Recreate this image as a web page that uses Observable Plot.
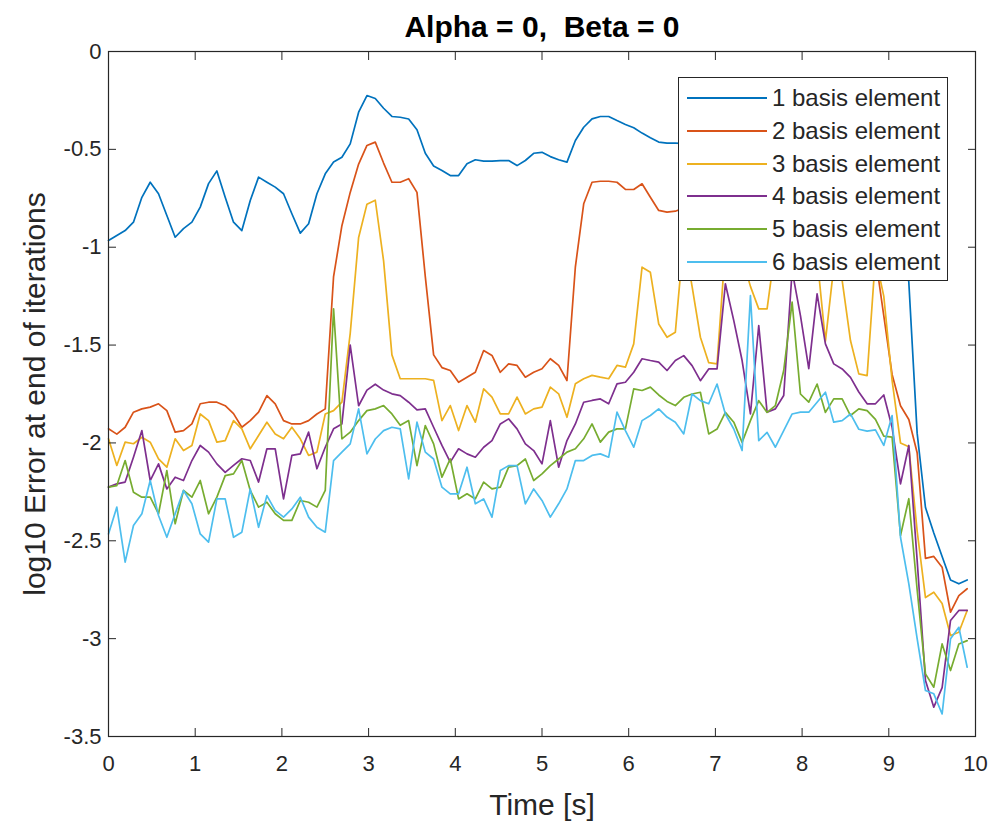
<!DOCTYPE html>
<html><head><meta charset="utf-8">
<script src="https://cdn.jsdelivr.net/npm/d3@7"></script>
<script src="https://cdn.jsdelivr.net/npm/@observablehq/plot@0.6"></script>
<style>
body{margin:0;background:#fff;}
#wrap{position:relative;width:992px;height:822px;overflow:hidden;}
#legend{position:absolute;left:678px;top:77px;width:268px;height:202px;border:1.3px solid #262626;background:#fff;font-family:"Liberation Sans",Arial,sans-serif;font-size:24px;color:#262626;}
.row{position:absolute;left:0;width:100%;height:0;}
.sw{position:absolute;left:8px;width:80px;top:-1px;height:2px;}
.lab{position:absolute;left:93px;top:-14px;line-height:28px;white-space:nowrap;}
</style></head><body><div id="wrap"></div>
<script>
const time = [0,0.096,0.192,0.288,0.385,0.481,0.577,0.673,0.769,0.865,
0.962,1.058,1.154,1.25,1.346,1.442,1.538,1.635,1.731,1.827,
1.923,2.019,2.115,2.212,2.308,2.404,2.5,2.596,2.692,2.788,
2.885,2.981,3.077,3.173,3.269,3.365,3.462,3.558,3.654,3.75,
3.846,3.942,4.038,4.135,4.231,4.327,4.423,4.519,4.615,4.712,
4.808,4.904,5.0,5.096,5.192,5.288,5.385,5.481,5.577,5.673,
5.769,5.865,5.962,6.058,6.154,6.25,6.346,6.442,6.538,6.635,
6.731,6.827,6.923,7.019,7.115,7.212,7.308,7.404,7.5,7.596,
7.692,7.788,7.885,7.981,8.077,8.173,8.269,8.365,8.462,8.558,
8.654,8.75,8.846,8.942,9.038,9.135,9.231,9.327,9.423,9.519,
9.615,9.712,9.808,9.904];

const basis1 = [-0.966,-0.94,-0.915,-0.872,-0.745,-0.668,-0.727,-0.838,-0.949,-0.905,
-0.872,-0.795,-0.675,-0.61,-0.745,-0.872,-0.915,-0.761,-0.642,-0.668,
-0.693,-0.727,-0.829,-0.928,-0.88,-0.727,-0.625,-0.565,-0.54,-0.472,
-0.31,-0.225,-0.24,-0.29,-0.332,-0.336,-0.345,-0.40,-0.52,-0.585,
-0.608,-0.634,-0.634,-0.574,-0.553,-0.56,-0.56,-0.558,-0.557,-0.583,
-0.557,-0.52,-0.515,-0.537,-0.553,-0.565,-0.455,-0.387,-0.344,-0.332,
-0.332,-0.353,-0.373,-0.39,-0.417,-0.441,-0.463,-0.468,-0.468,-0.47,
-0.46,-0.44,-0.42,-0.41,-0.43,-0.45,-0.47,-0.46,-0.44,-0.42,
-0.40,-0.38,-0.37,-0.39,-0.42,-0.45,-0.48,-0.50,-0.49,-0.47,
-0.48,-0.51,-0.55,-0.60,-0.66,-0.80,-1.18,-1.95,-2.33,-2.46,
-2.58,-2.70,-2.72,-2.70];

const basis2 = [-1.928,-1.955,-1.92,-1.843,-1.826,-1.817,-1.80,-1.835,-1.945,-1.937,
-1.903,-1.80,-1.792,-1.792,-1.81,-1.85,-1.92,-1.886,-1.843,-1.758,
-1.80,-1.886,-1.903,-1.903,-1.886,-1.852,-1.826,-1.15,-0.89,-0.72,
-0.575,-0.48,-0.463,-0.57,-0.668,-0.668,-0.65,-0.72,-1.15,-1.55,
-1.615,-1.63,-1.69,-1.664,-1.639,-1.528,-1.553,-1.639,-1.596,-1.604,
-1.664,-1.639,-1.621,-1.57,-1.604,-1.681,-1.1,-0.778,-0.668,-0.663,
-0.663,-0.668,-0.705,-0.705,-0.676,-0.745,-0.812,-0.821,-0.816,-0.80,
-0.78,-0.75,-0.73,-0.75,-0.78,-0.82,-0.84,-0.82,-0.80,-0.78,
-0.77,-0.79,-0.82,-0.85,-0.87,-0.85,-0.83,-0.85,-0.88,-0.92,
-0.96,-1.0,-1.05,-1.35,-1.65,-1.81,-1.88,-2.05,-2.59,-2.58,
-2.635,-2.865,-2.78,-2.745];

const basis3 = [-1.979,-2.115,-1.996,-2.004,-1.971,-1.996,-2.081,-2.124,-1.979,-2.039,
-2.013,-1.852,-1.886,-1.996,-1.988,-1.886,-1.928,-2.03,-1.962,-1.894,
-1.954,-1.979,-1.92,-1.979,-2.064,-2.047,-1.852,-1.835,-1.792,-1.44,
-0.95,-0.78,-0.76,-1.07,-1.55,-1.672,-1.672,-1.672,-1.672,-1.68,
-1.886,-1.809,-1.937,-1.809,-1.894,-1.724,-1.766,-1.852,-1.852,-1.766,
-1.852,-1.826,-1.817,-1.715,-1.749,-1.869,-1.698,-1.672,-1.655,-1.664,
-1.672,-1.604,-1.613,-1.494,-1.102,-1.128,-1.392,-1.46,-1.434,-0.95,
-1.2,-1.46,-1.59,-1.596,-1.0,-0.95,-1.05,-1.2,-1.315,-1.315,
-1.0,-0.95,-1.05,-1.0,-0.95,-1.05,-1.48,-1.1,-1.17,-1.477,
-1.647,-1.656,-1.05,-1.25,-1.68,-2.0,-2.02,-2.45,-2.79,-2.763,
-2.82,-2.984,-2.967,-2.856];

const basis4 = [-2.226,-2.209,-2.2,-2.073,-1.937,-2.192,-2.107,-2.235,-2.175,-2.192,
-2.09,-2.013,-2.047,-2.107,-2.15,-2.115,-2.081,-2.09,-2.2,-2.03,
-2.03,-2.286,-2.064,-2.056,-1.945,-2.132,-2.022,-1.928,-1.903,-1.50,
-1.81,-1.73,-1.70,-1.73,-1.749,-1.758,-1.792,-1.831,-1.826,-1.92,
-2.013,-2.098,-2.03,-2.056,-2.073,-2.022,-1.988,-1.903,-1.877,-1.928,
-2.005,-2.039,-2.107,-1.886,-2.124,-1.988,-1.903,-1.792,-1.783,-1.775,
-1.80,-1.698,-1.69,-1.639,-1.57,-1.579,-1.587,-1.63,-1.579,-1.554,
-1.605,-1.682,-1.622,-1.622,-1.187,-1.375,-1.579,-1.852,-1.40,-1.843,
-1.826,-1.758,-1.12,-1.35,-1.62,-1.238,-1.494,-1.596,-1.622,-1.665,
-1.74,-1.80,-1.80,-1.755,-1.92,-2.209,-2.013,-2.6,-3.214,-3.35,
-3.25,-2.907,-2.856,-2.856];

const basis5 = [-2.226,-2.218,-2.09,-2.252,-2.277,-2.277,-2.362,-2.141,-2.413,-2.243,
-2.277,-2.192,-2.362,-2.277,-2.167,-2.158,-2.09,-2.243,-2.328,-2.303,
-2.362,-2.396,-2.396,-2.294,-2.303,-2.328,-2.243,-1.315,-1.979,-1.945,
-1.886,-1.835,-1.826,-1.809,-1.852,-1.91,-1.886,-2.116,-1.911,-2.005,
-2.175,-2.082,-2.286,-2.26,-2.286,-2.2,-2.235,-2.226,-2.124,-2.116,
-2.082,-2.192,-2.158,-2.116,-2.082,-2.047,-2.03,-1.979,-1.903,-1.996,
-1.945,-1.928,-1.928,-1.724,-1.732,-1.715,-1.755,-1.788,-1.809,-1.767,
-1.75,-1.741,-1.954,-1.929,-1.844,-1.894,-1.997,-1.886,-1.784,-1.844,
-1.809,-1.63,-1.281,-1.75,-1.792,-1.699,-1.844,-1.775,-1.775,-1.86,
-1.826,-1.835,-1.88,-1.965,-1.97,-2.473,-2.285,-2.75,-3.18,-3.248,
-3.027,-3.163,-3.027,-3.01];

const basis6 = [-2.465,-2.328,-2.609,-2.422,-2.362,-2.192,-2.371,-2.482,-2.362,-2.243,
-2.311,-2.465,-2.507,-2.286,-2.286,-2.482,-2.456,-2.235,-2.431,-2.269,
-2.345,-2.379,-2.337,-2.277,-2.379,-2.431,-2.456,-2.09,-2.047,-2.005,
-1.826,-2.056,-1.98,-1.937,-1.92,-1.928,-2.184,-1.894,-2.047,-2.082,
-2.226,-2.26,-2.26,-2.124,-2.311,-2.286,-2.379,-2.141,-2.116,-2.116,
-2.311,-2.235,-2.294,-2.379,-2.311,-2.235,-2.09,-2.09,-2.064,-2.056,
-2.073,-1.843,-1.937,-2.022,-1.886,-1.86,-1.826,-1.868,-1.894,-1.954,
-1.75,-1.784,-1.80,-1.699,-1.852,-1.929,-2.039,-1.247,-1.988,-1.946,
-2.022,-1.937,-1.852,-1.843,-1.843,-1.792,-1.741,-1.894,-1.886,-1.852,
-1.93,-1.94,-1.933,-2.013,-1.86,-2.482,-2.72,-3.0,-3.265,-3.282,
-3.385,-3.001,-2.942,-3.146];

const seriesNames = ["1 basis element","2 basis element","3 basis element","4 basis element","5 basis element","6 basis element"];
const seriesColors = ["#0072BD","#D95319","#EDB120","#7E2F8E","#77AC30","#4DBEEE"];
const xTicks = [0,1,2,3,4,5,6,7,8,9,10];
const yTicks = [0,-0.5,-1,-1.5,-2,-2.5,-3,-3.5];
const titleText = "Alpha = 0,  Beta = 0";
const xLabel = "Time [s]";
const yLabel = "log10 Error at end of iterations";

const allSeries = [basis1, basis2, basis3, basis4, basis5, basis6];
const rows = [];
allSeries.forEach((vals, k) => vals.forEach((v, i) => rows.push({t: time[i], v, s: seriesNames[k]})));

const ink = "#262626";
const font = "'Liberation Sans', Arial, Helvetica, sans-serif";

const chart = Plot.plot({
  width: 992, height: 822,
  marginLeft: 108, marginRight: 17, marginTop: 51, marginBottom: 86,
  x: {domain: [0, 10]},
  y: {domain: [-3.5, 0]},
  color: {domain: seriesNames, range: seriesColors},
  style: {fontFamily: font, background: "white", overflow: "visible"},
  marks: [
    Plot.lineY(rows, {x: "t", y: "v", z: "s", stroke: "s", strokeWidth: 1.7}),
    Plot.frame({stroke: ink, strokeWidth: 1.2}),
    Plot.axisX({anchor: "bottom", ticks: xTicks, tickSize: -8, tickPadding: 27, tickFormat: d => String(d), fontSize: 22, color: ink, stroke: ink, label: null}),
    Plot.axisX({anchor: "top", ticks: xTicks, tickSize: -8, tickFormat: () => "", color: ink, stroke: ink, label: null}),
    Plot.axisY({anchor: "left", ticks: yTicks, tickSize: -8, tickPadding: 15, tickFormat: d => String(d), fontSize: 22, color: ink, stroke: ink, label: null}),
    Plot.axisY({anchor: "right", ticks: yTicks, tickSize: -8, tickFormat: () => "", color: ink, stroke: ink, label: null}),
    Plot.text([titleText], {text: d => d, frameAnchor: "top", dy: -24, lineAnchor: "middle", textAnchor: "middle", fontSize: 30, fontWeight: "bold", fill: "#000"}),
    Plot.text([xLabel], {text: d => d, frameAnchor: "bottom", dy: 69, lineAnchor: "middle", textAnchor: "middle", fontSize: 30, fill: ink}),
    Plot.text([yLabel], {text: d => d, frameAnchor: "left", dx: -73, lineAnchor: "middle", textAnchor: "middle", rotate: -90, fontSize: 30, fill: ink})
  ]
});

const wrap = document.getElementById("wrap");
wrap.appendChild(chart);

const legend = document.createElement("div");
legend.id = "legend";
seriesNames.forEach((name, k) => {
  const r = document.createElement("div");
  r.className = "row";
  r.style.top = (19.7 + 32.9 * k) + "px";
  const sw = document.createElement("div");
  sw.className = "sw";
  sw.style.background = seriesColors[k];
  const lab = document.createElement("div");
  lab.className = "lab";
  lab.textContent = name;
  r.appendChild(sw); r.appendChild(lab);
  legend.appendChild(r);
});
wrap.appendChild(legend);
</script>
</body></html>
